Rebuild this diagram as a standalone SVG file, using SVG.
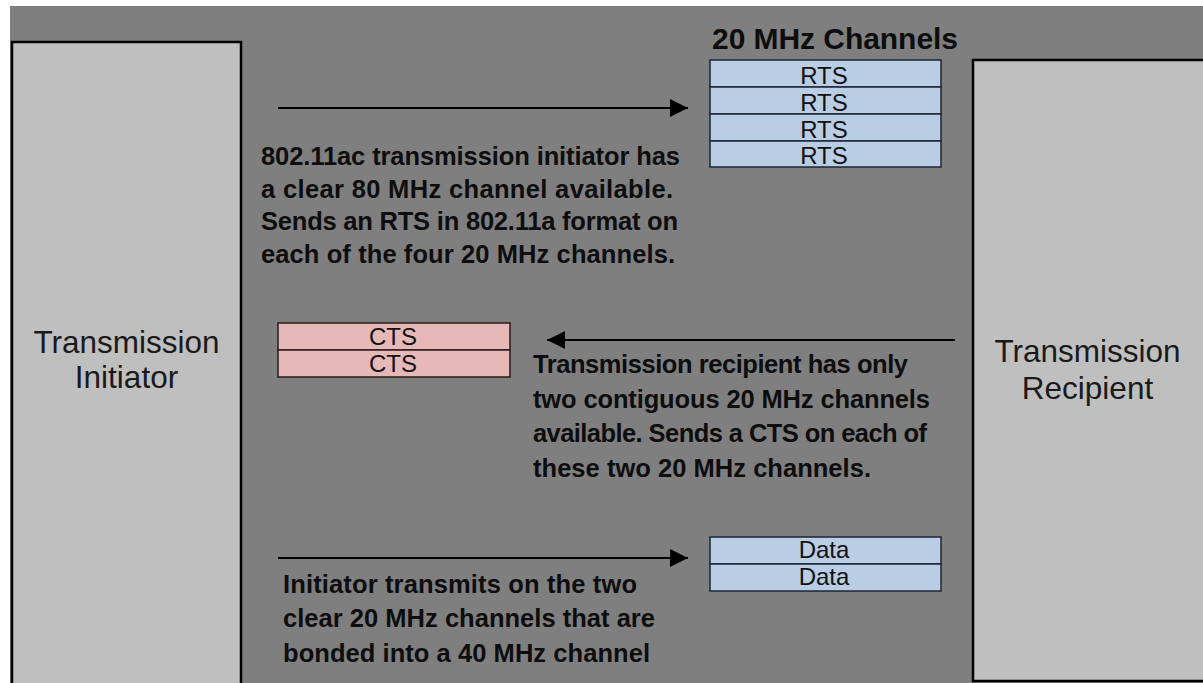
<svg xmlns="http://www.w3.org/2000/svg" width="1203" height="683" viewBox="0 0 1203 683">
<style>
.bg{fill:#7f7f7f}
.ent{fill:#bfbfbf;stroke:#000;stroke-width:2.5}
.lbl{font-family:"Liberation Sans",Arial,sans-serif;font-size:31.5px;fill:#1a1a1a;text-anchor:middle}
.blue{fill:#b9cde5;stroke:#1c2636;stroke-width:1.5}
.pink{fill:#e6b9b8;stroke:#2a1a1a;stroke-width:1.5}
.cell{font-family:"Liberation Sans",Arial,sans-serif;font-size:24px;fill:#111;text-anchor:middle}
.note{font-family:"Liberation Sans",Arial,sans-serif;font-size:25.5px;font-weight:bold;fill:#0d0d0d}
.title{font-family:"Liberation Sans",Arial,sans-serif;font-size:30px;font-weight:bold;fill:#0d0d0d}
.arr{stroke:#000;stroke-width:2.2;fill:none;marker-end:url(#ah)}
</style>
<defs>
<marker id="ah" markerUnits="userSpaceOnUse" markerWidth="18" markerHeight="18" refX="18" refY="9" orient="auto">
<path d="M0,0 L18,9 L0,18 z" fill="#000"/>
</marker>
</defs>
<rect x="0" y="0" width="1203" height="683" fill="#ffffff"/>
<rect class="bg" x="10" y="6" width="1193" height="677"/>

<g id="initiator">
<rect class="ent" x="12" y="42" width="229" height="650"/>
<text class="lbl" x="126.5" y="353">Transmission</text>
<text class="lbl" x="126.5" y="388">Initiator</text>
</g>

<g id="recipient">
<rect class="ent" x="973" y="60" width="232" height="621"/>
<text class="lbl" x="1087.5" y="362">Transmission</text>
<text class="lbl" x="1087.5" y="399">Recipient</text>
</g>

<g id="rts-channels">
<text class="title" x="712" y="49" textLength="246">20 MHz Channels</text>
<rect class="blue" x="710" y="60" width="231" height="27"/>
<rect class="blue" x="710" y="87" width="231" height="27"/>
<rect class="blue" x="710" y="114" width="231" height="27"/>
<rect class="blue" x="710" y="141" width="231" height="26"/>
<text class="cell" x="824" y="83.5">RTS</text>
<text class="cell" x="824" y="110.5">RTS</text>
<text class="cell" x="824" y="137.5">RTS</text>
<text class="cell" x="824" y="163.5">RTS</text>
</g>

<g id="cts-channels">
<rect class="pink" x="278" y="323" width="232" height="27"/>
<rect class="pink" x="278" y="350" width="232" height="27"/>
<text class="cell" x="393" y="345">CTS</text>
<text class="cell" x="393" y="372">CTS</text>
</g>

<g id="data-channels">
<rect class="blue" x="710" y="537" width="231" height="27"/>
<rect class="blue" x="710" y="564" width="231" height="27"/>
<text class="cell" x="824" y="558">Data</text>
<text class="cell" x="824" y="585">Data</text>
</g>

<g id="connectors">
<line class="arr" x1="278" y1="108" x2="688" y2="108"/>
<line class="arr" x1="955" y1="340" x2="547" y2="340"/>
<line class="arr" x1="278" y1="558" x2="688" y2="558"/>
</g>

<g id="note-rts">
<text class="note" x="261" y="165" textLength="419">802.11ac transmission initiator has</text>
<text class="note" x="261" y="198" textLength="412">a clear 80 MHz channel available.</text>
<text class="note" x="261" y="230" textLength="417">Sends an RTS in 802.11a format on</text>
<text class="note" x="261" y="263" textLength="414">each of the four 20 MHz channels.</text>
</g>

<g id="note-cts">
<text class="note" x="533" y="373" textLength="375">Transmission recipient has only</text>
<text class="note" x="533" y="408" textLength="397">two contiguous 20 MHz channels</text>
<text class="note" x="533" y="442" textLength="394">available. Sends a CTS on each of</text>
<text class="note" x="533" y="477" textLength="338">these two 20 MHz channels.</text>
</g>

<g id="note-data">
<text class="note" x="283" y="593" textLength="354">Initiator transmits on the two</text>
<text class="note" x="283" y="627" textLength="372">clear 20 MHz channels that are</text>
<text class="note" x="283" y="662" textLength="367">bonded into a 40 MHz channel</text>
</g>
</svg>
